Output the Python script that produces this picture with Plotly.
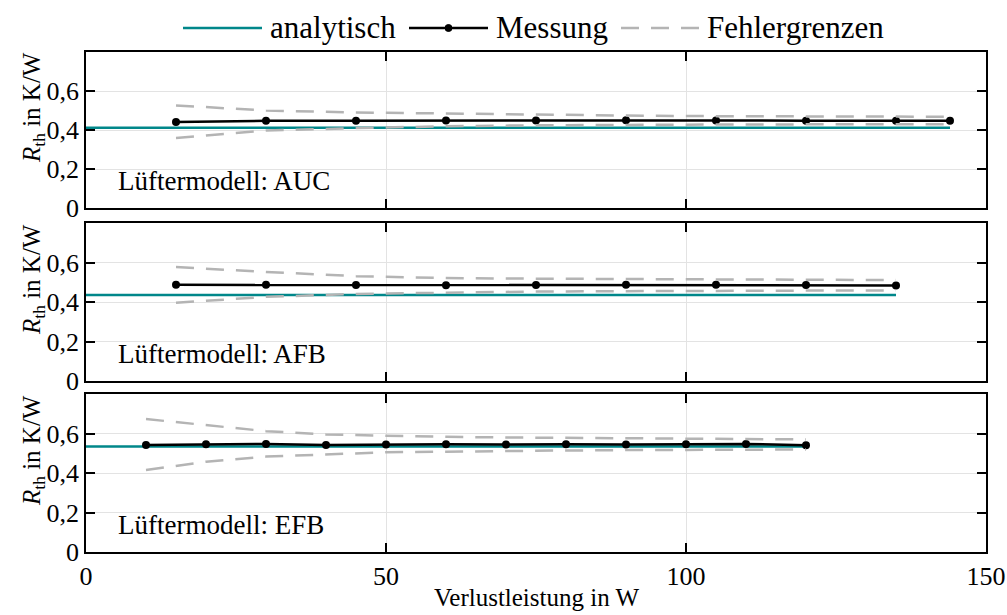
import plotly.graph_objects as go

# Verlustleistung (W) und thermischer Widerstand (K/W) je Lüftermodell
x_auc = [15, 30, 45, 60, 75, 90, 105, 120, 135, 144]
mess_auc = [0.441, 0.447, 0.448, 0.449, 0.449, 0.450, 0.449, 0.448, 0.448, 0.447]
ober_auc = [0.526, 0.500, 0.490, 0.484, 0.478, 0.474, 0.471, 0.470, 0.469, 0.468]
unter_auc = [0.359, 0.397, 0.410, 0.419, 0.424, 0.427, 0.428, 0.429, 0.430, 0.430]
ana_auc = 0.412

x_afb = [15, 30, 45, 60, 75, 90, 105, 120, 135]
mess_afb = [0.487, 0.487, 0.486, 0.485, 0.486, 0.487, 0.487, 0.486, 0.484]
ober_afb = [0.577, 0.552, 0.531, 0.521, 0.518, 0.516, 0.514, 0.513, 0.511]
unter_afb = [0.396, 0.426, 0.441, 0.448, 0.453, 0.455, 0.457, 0.458, 0.459]
ana_afb = 0.435

x_efb = [10, 20, 30, 40, 50, 60, 70, 80, 90, 100, 110, 120]
mess_efb = [0.542, 0.546, 0.547, 0.542, 0.544, 0.546, 0.544, 0.546, 0.544, 0.546, 0.547, 0.541]
ober_efb = [0.673, 0.644, 0.612, 0.595, 0.588, 0.583, 0.580, 0.578, 0.576, 0.575, 0.573, 0.570]
unter_efb = [0.415, 0.457, 0.483, 0.495, 0.505, 0.508, 0.512, 0.514, 0.516, 0.517, 0.518, 0.519]
ana_efb = 0.534

modelle = ["AUC", "AFB", "EFB"]
y_ticks = [0, 0.2, 0.4, 0.6]
y_ticktext = ["0", "0,2", "0,4", "0,6"]
x_ticks = [0, 50, 100, 150]
legend_names = ["analytisch", "Messung", "Fehlergrenzen"]
y_title = "<i>R</i><sub>th</sub> in K/W"
x_title = "Verlustleistung in W"

TEAL = "#00878a"
GRAU = "#b4b4b4"
FONT = "Liberation Serif, Times New Roman, serif"
DASH = "18px,12px"

W, H = 1007, 615
M = dict(l=86, r=21, t=52, b=63)
PW, PH = W - M["l"] - M["r"], H - M["t"] - M["b"]


def px_x(p):
    return (p - M["l"]) / PW


def px_y(p):
    return (H - M["b"] - p) / PH


panels = [
    (x_auc, mess_auc, ober_auc, unter_auc, ana_auc),
    (x_afb, mess_afb, ober_afb, unter_afb, ana_afb),
    (x_efb, mess_efb, ober_efb, unter_efb, ana_efb),
]
domains = [[0.688, 1.0], [0.342, 0.658], [0.0, 0.316]]

fig = go.Figure()
for i, (xs, mess, ober, unter, ana) in enumerate(panels):
    n = "" if i == 0 else str(i + 1)
    xa, ya = "x" + n, "y" + n
    fig.add_trace(go.Scatter(
        x=[0, xs[-1]], y=[ana, ana], mode="lines", xaxis=xa, yaxis=ya,
        line=dict(color=TEAL, width=2.5), name=legend_names[0], showlegend=False))
    fig.add_trace(go.Scatter(
        x=xs, y=mess, mode="lines+markers", xaxis=xa, yaxis=ya,
        line=dict(color="black", width=2.5), marker=dict(color="black", size=8),
        name=legend_names[1], showlegend=False))
    for grenze in (ober, unter):
        fig.add_trace(go.Scatter(
            x=xs, y=grenze, mode="lines", xaxis=xa, yaxis=ya,
            line=dict(color=GRAU, width=2.5, dash=DASH),
            name=legend_names[2], showlegend=False))

    axis_common = dict(
        showline=True, linecolor="black", linewidth=1.5, mirror="ticks",
        ticks="inside", ticklen=9, tickcolor="black", tickwidth=1.5,
        showgrid=True, gridcolor="#e3e3e3", gridwidth=1, zeroline=False,
        automargin=False,
        tickfont=dict(family=FONT, size=26, color="black"))
    fig.update_layout({
        "xaxis" + n: dict(axis_common, domain=[0, 1], range=[0, 150],
                          tickvals=x_ticks, showticklabels=(i == 2), anchor=ya),
        "yaxis" + n: dict(axis_common, domain=domains[i], range=[0, 0.8],
                          tickvals=y_ticks, ticktext=y_ticktext, anchor=xa),
    })
    fig.add_annotation(
        text="Lüftermodell: " + modelle[i], xref=xa + " domain", yref=ya + " domain",
        x=0.033, y=0.17, xanchor="left", yanchor="middle", showarrow=False,
        font=dict(family=FONT, size=27, color="black"))

    # vertikale Achsenbeschriftung, etwas oberhalb der Panelmitte
    d0, d1 = domains[i]
    yc = (d0 + d1) / 2 + 22 / PH
    fig.add_annotation(
        text=y_title, xref="paper", yref="paper", x=px_x(33), y=yc,
        xanchor="center", yanchor="middle", textangle=-90, showarrow=False,
        font=dict(family=FONT, size=25, color="black"))

# x-Achsenbeschriftung unter dem unteren Panel
fig.add_annotation(
    text=x_title, xref="paper", yref="paper", x=0.5, y=px_y(597),
    xanchor="center", yanchor="middle", showarrow=False,
    font=dict(family=FONT, size=25, color="black"))

# Legende oberhalb der Diagramme: Linienmuster + Beschriftung
leg_y = px_y(28)
leg_items = [
    (183, 262, dict(color=TEAL, width=2.5), False, 268, legend_names[0]),
    (409, 488, dict(color="black", width=2.5), True, 494, legend_names[1]),
    (621, 700, dict(color=GRAU, width=2.5, dash=DASH), False, 705, legend_names[2]),
]
for x0, x1, line, marker, tx, label in leg_items:
    fig.add_shape(type="line", xref="paper", yref="paper",
                  x0=px_x(x0), x1=px_x(x1), y0=leg_y, y1=leg_y, line=line)
    if marker:
        xm = (x0 + x1) / 2
        fig.add_shape(type="circle", xref="paper", yref="paper",
                      x0=px_x(xm - 3.5), x1=px_x(xm + 3.5),
                      y0=px_y(28 + 3.5), y1=px_y(28 - 3.5),
                      fillcolor="black", line=dict(color="black", width=1))
    fig.add_annotation(text=label, xref="paper", yref="paper", x=px_x(tx), y=leg_y,
                       xanchor="left", yanchor="middle", showarrow=False,
                       font=dict(family=FONT, size=31, color="black"))

fig.update_layout(
    width=W, height=H, margin=M,
    paper_bgcolor="white", plot_bgcolor="white",
    font=dict(family=FONT, color="black"),
    showlegend=False,
)

fig.write_html("out.html")
